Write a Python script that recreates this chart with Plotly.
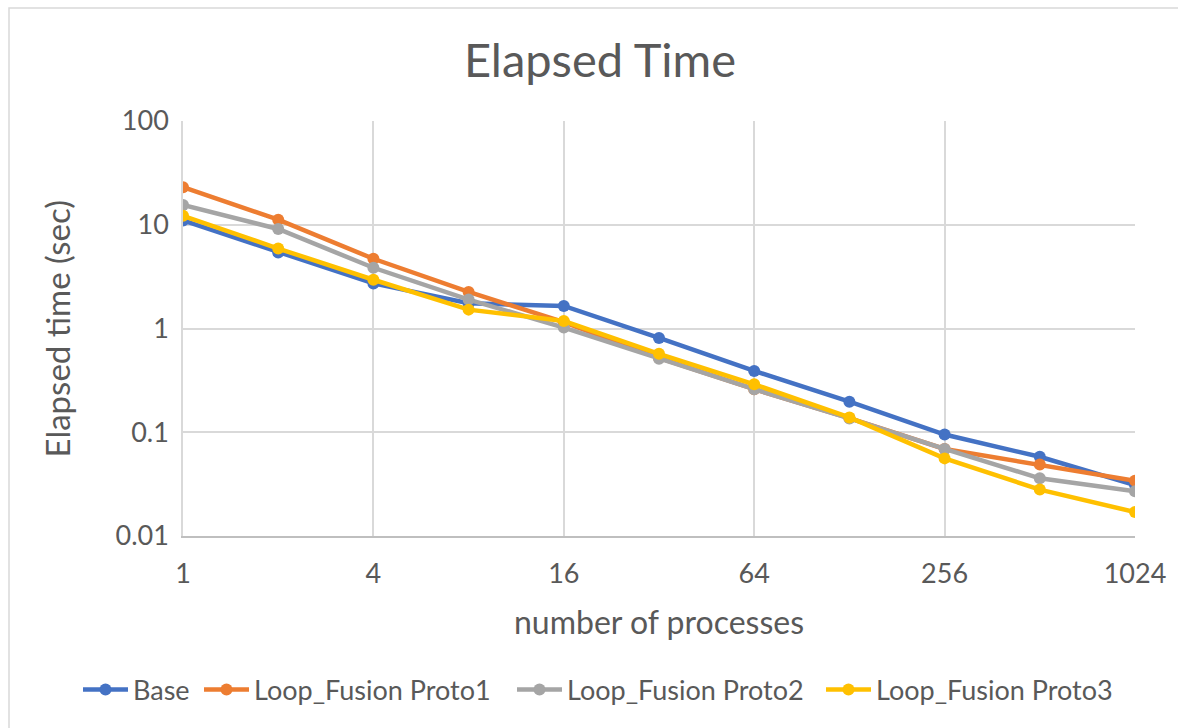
import plotly.graph_objects as go

processes = [1, 2, 4, 8, 16, 32, 64, 128, 256, 512, 1024]
base = [11.0, 5.4, 2.72, 1.75, 1.65, 0.81, 0.39, 0.197, 0.095, 0.058, 0.031]
proto1 = [23.0, 11.2, 4.7, 2.25, 1.15, 0.52, 0.26, 0.137, 0.069, 0.049, 0.034]
proto2 = [15.5, 9.1, 3.85, 1.9, 1.02, 0.51, 0.26, 0.136, 0.069, 0.036, 0.027]
proto3 = [12.2, 5.9, 2.95, 1.52, 1.18, 0.57, 0.29, 0.139, 0.056, 0.028, 0.017]

series_names = ["Base", "Loop_Fusion Proto1", "Loop_Fusion Proto2", "Loop_Fusion Proto3"]
series_colors = ["#4472C4", "#ED7D31", "#A5A5A5", "#FFC000"]
x_ticks = [1, 4, 16, 64, 256, 1024]
y_ticks = [0.01, 0.1, 1, 10, 100]
y_tick_text = ["0.01", "0.1", "1", "10", "100"]

FONT = "Lato, 'Open Sans', sans-serif"
TXT = "#595959"

# plot area in pixels: x 183..1135, y 121..536
L, R, T, B = 183, 1135, 121, 536
W, H = 1178, 728
pw, ph = R - L, B - T

def px_x(p):
    return (p - L) / pw

def px_y(p):
    return (B - p) / ph

legend_ids = ["legend", "legend2", "legend3", "legend4"]
legend_text_starts = [132, 253, 566, 875]
ITEMW = 45

fig = go.Figure()
for name, vals, col, lg in zip(series_names, [base, proto1, proto2, proto3], series_colors, legend_ids):
    fig.add_trace(go.Scatter(
        x=processes, y=vals, name=name, mode="lines+markers",
        line=dict(color=col, width=4.5),
        marker=dict(color=col, size=12),
        legend=lg,
    ))

legends = {}
for lg, tx in zip(legend_ids, legend_text_starts):
    legends[lg] = dict(orientation="h", xref="paper", yref="paper",
                       x=px_x(tx - ITEMW - 9), xanchor="left", y=px_y(690), yanchor="middle",
                       font=dict(size=27, color=TXT, family=FONT), bgcolor="rgba(0,0,0,0)",
                       itemwidth=ITEMW, tracegroupgap=0)

fig.update_layout(
    width=W, height=H,
    margin=dict(l=L, r=W - R, t=T, b=H - B, autoexpand=False),
    paper_bgcolor="white", plot_bgcolor="white",
    font=dict(family=FONT, color=TXT, size=27),
    title=dict(text="Elapsed Time", x=600 / W, xanchor="center",
               y=1 - 61 / H, yanchor="middle", yref="container",
               font=dict(size=47, color=TXT, family=FONT)),
    showlegend=True,
    xaxis=dict(type="log", range=[0, 3.0103], tickvals=x_ticks, ticktext=[str(v) for v in x_ticks],
               showgrid=True, gridcolor="#d9d9d9", gridwidth=1.5,
               showline=True, linecolor="#bfbfbf", linewidth=1.5, mirror=False,
               zeroline=False, ticks="", ticklabelstandoff=13,
               tickfont=dict(size=27, color=TXT, family=FONT)),
    yaxis=dict(type="log", range=[-2, 2], tickvals=y_ticks, ticktext=y_tick_text,
               showgrid=True, gridcolor="#d9d9d9", gridwidth=1.5,
               showline=True, linecolor="#d9d9d9", linewidth=1.5,
               zeroline=False, ticks="", ticklabelstandoff=7,
               tickfont=dict(size=27, color=TXT, family=FONT)),
    annotations=[
        dict(text="number of processes", xref="paper", yref="paper",
             x=0.5, y=px_y(621), xanchor="center", yanchor="middle", showarrow=False,
             font=dict(size=32, color=TXT, family=FONT)),
        dict(text="Elapsed time (sec)", xref="paper", yref="paper",
             x=px_x(56), y=0.5, xanchor="center", yanchor="middle", textangle=-90, showarrow=False,
             font=dict(size=33, color=TXT, family=FONT)),
    ],
    shapes=[dict(type="rect", xref="paper", yref="paper",
                 x0=px_x(9), x1=px_x(1190), y0=px_y(745), y1=px_y(8),
                 line=dict(color="#d9d9d9", width=1.5), fillcolor="rgba(0,0,0,0)", layer="below")],
    **legends,
)

fig.write_html("out.html", config={"displayModeBar": False},
               post_script="document.body.style.margin='0';")
